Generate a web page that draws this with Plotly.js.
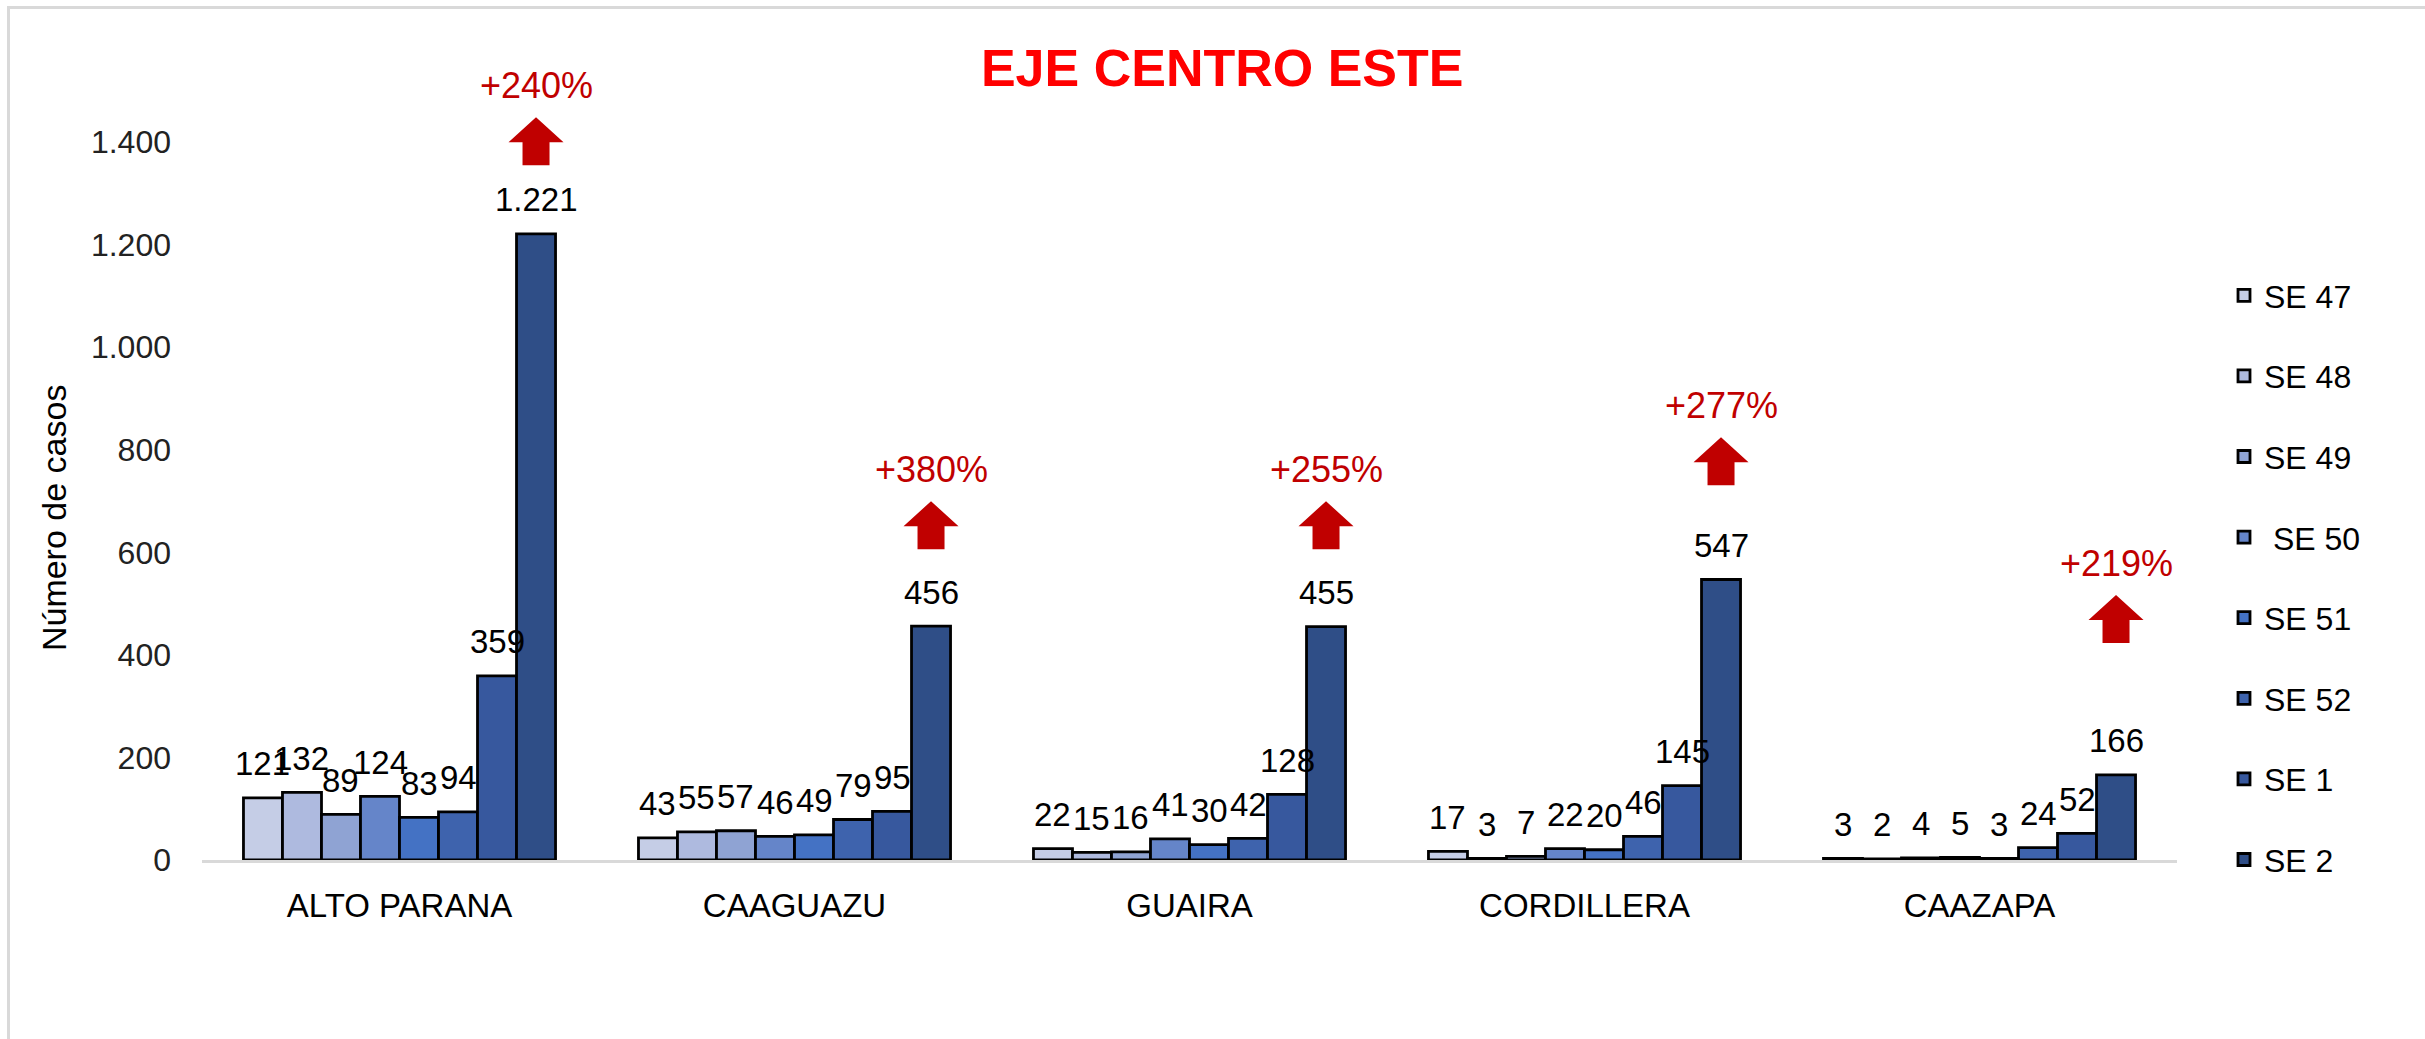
<!DOCTYPE html>
<html>
<head>
<meta charset="utf-8">
<script src="https://cdn.plot.ly/plotly-3.0.1.min.js"></script>
<style>
  html, body { margin: 0; padding: 0; background: #fff; }
  #wrap { position: relative; width: 2425px; height: 1039px; }
  #chart { width: 2425px; height: 1039px; }
  /* marco gris del gráfico original */
  #frame { position: absolute; left: 7px; top: 6px; right: -10px; bottom: -10px;
           border-left: 3px solid #d9d9d9; border-top: 3px solid #d9d9d9; pointer-events: none; }
</style>
</head>
<body>
<div id="wrap">
  <div id="chart"></div>
  <div id="frame"></div>
</div>
<script>
// Departamentos
const departamentos = ['ALTO PARANA', 'CAAGUAZU', 'GUAIRA', 'CORDILLERA', 'CAAZAPA'];

// Semanas epidemiológicas
const semanas = ['SE 47', 'SE 48', 'SE 49', ' SE 50', 'SE 51', 'SE 52', 'SE 1', 'SE 2'];

// Número de casos por semana
const se47 = [121, 43, 22, 17, 3];
const se48 = [132, 55, 15, 3, 2];
const se49 = [89, 57, 16, 7, 4];
const se50 = [124, 46, 41, 22, 5];
const se51 = [83, 49, 30, 20, 3];
const se52 = [94, 79, 42, 46, 24];
const se1 = [359, 95, 128, 145, 52];
const se2 = [1221, 456, 455, 547, 166];

// Variación porcentual y altura de la flecha (en número de casos)
const variacion = ['+240%', '+380%', '+255%', '+277%', '+219%'];
const nivelFlecha = [1355, 606, 606, 731, 423];

const ticksY = [0, 200, 400, 600, 800, 1000, 1200, 1400];

const colores = ['#c5cde6', '#aebadf', '#8fa3d3', '#6585c9', '#4472c4', '#3e63ad', '#37589e', '#2f4e87'];
const series = [se47, se48, se49, se50, se51, se52, se1, se2];

const FUENTE = 'Liberation Sans, Arial, sans-serif';
const BARGAP = 0.21;

// separador de miles con punto
function formato(v) {
    return String(v).replace(/\B(?=(\d{3})+(?!\d))/g, '.');
}

const traces = series.map((valores, i) => ({
    type: 'bar',
    name: semanas[i],
    legendgroup: 'g' + i,
    x: departamentos,
    y: valores,
    marker: { color: colores[i], line: { color: '#000', width: 2.8 } },
    hoverinfo: 'none'
}));

// posición de cada barra dentro del grupo, en unidades de categoría
const nSeries = series.length;
const anchoBarra = (1 - BARGAP) / nSeries;
function offsetBarra(k) {
    return -(1 - BARGAP) / 2 + anchoBarra * (k + 0.5);
}

const anotaciones = [];

// etiquetas de valor sobre cada barra
series.forEach((valores, k) => {
    valores.forEach((v, i) => {
        anotaciones.push({
            xref: 'x', yref: 'y',
            x: i + offsetBarra(k),
            y: v,
            yshift: 34,
            yanchor: 'middle',
            text: formato(v),
            showarrow: false,
            font: { family: FUENTE, size: 33, color: '#000' }
        });
    });
});

const flechas = departamentos.map((d, i) => ({
    type: 'path',
    xref: 'x', yref: 'y',
    xsizemode: 'pixel', ysizemode: 'pixel',
    xanchor: i + offsetBarra(nSeries - 1),
    yanchor: nivelFlecha[i],
    path: 'M-13.5,0 L13.5,0 L13.5,23 L27.5,23 L0,48 L-27.5,23 L-13.5,23 Z',
    fillcolor: '#c00000',
    line: { width: 0 }
}));

departamentos.forEach((d, i) => {
    anotaciones.push({
        xref: 'x', yref: 'y',
        x: i + offsetBarra(nSeries - 1),
        y: nivelFlecha[i],
        yshift: 80,
        yanchor: 'middle',
        text: variacion[i],
        showarrow: false,
        font: { family: FUENTE, size: 36, color: '#c00000' }
    });
});

anotaciones.push({
    xref: 'paper', yref: 'paper',
    x: -0.0749, y: 0.4275,
    xanchor: 'center', yanchor: 'middle',
    text: 'Número de casos',
    textangle: -90,
    showarrow: false,
    font: { family: FUENTE, size: 34, color: '#000' }
});

const layout = {
    width: 2425,
    height: 1039,
    margin: { l: 202, r: 248, t: 60, b: 179 },
    paper_bgcolor: '#fff',
    plot_bgcolor: '#fff',
    separators: ',.',
    barmode: 'group',
    bargap: BARGAP,
    bargroupgap: 0,
    title: {
        text: '<b>EJE CENTRO ESTE</b>',
        font: { family: FUENTE, size: 52, color: '#ff0000' },
        xref: 'container', x: 0.504, xanchor: 'center',
        yref: 'container', y: 0.9346, yanchor: 'middle'
    },
    xaxis: {
        type: 'category',
        showline: true,
        linecolor: '#d9d9d9',
        linewidth: 3,
        showgrid: false,
        zeroline: false,
        ticks: '',
        ticklabelstandoff: 14,
        tickfont: { family: FUENTE, size: 33, color: '#000' }
    },
    yaxis: {
        range: [0, 1560],
        tickmode: 'array',
        tickvals: ticksY,
        separatethousands: true,
        showgrid: false,
        zeroline: false,
        showline: false,
        ticks: '',
        ticklabelstandoff: 30,
        tickfont: { family: FUENTE, size: 32, color: '#222' }
    },
    showlegend: true,
    legend: {
        x: 1.0238, xanchor: 'left',
        y: 0.740, yanchor: 'top',
        bgcolor: 'rgba(0,0,0,0)',
        tracegroupgap: 36,
        font: { family: FUENTE, size: 32, color: '#000' }
    },
    shapes: flechas,
    annotations: anotaciones
};

Plotly.newPlot('chart', traces, layout, { displayModeBar: false, staticPlot: true });
</script>
</body>
</html>
